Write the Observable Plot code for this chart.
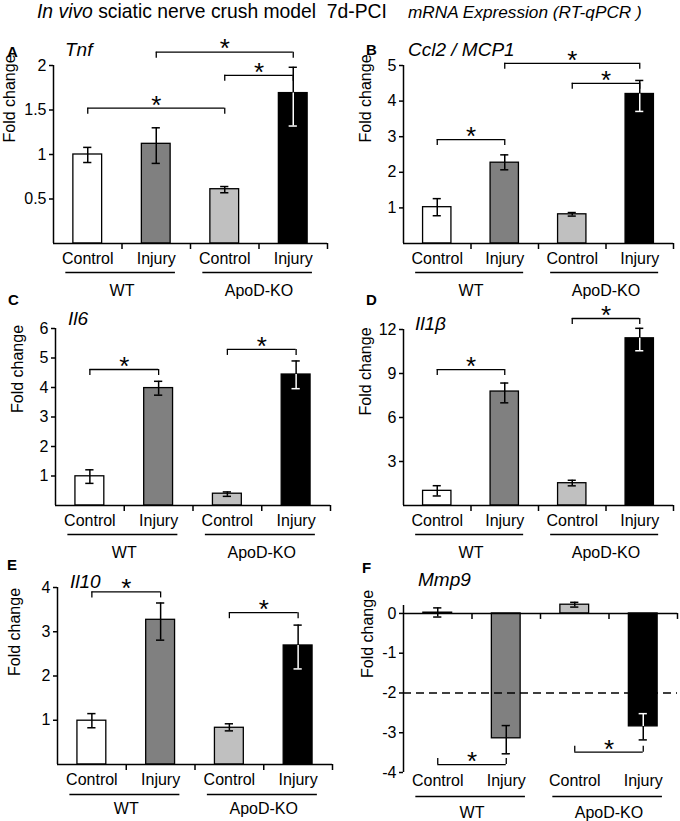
<!DOCTYPE html>
<html><head><meta charset="utf-8">
<script src="https://cdn.jsdelivr.net/npm/d3@7"></script>
<script src="https://cdn.jsdelivr.net/npm/@observablehq/plot@0.6"></script>
<style>
body{margin:0;background:#fff;}
#fig{position:relative;width:680px;height:821px;font-family:"Liberation Sans",Arial,sans-serif;color:#000;overflow:hidden;}
.abs{position:absolute;white-space:nowrap;line-height:20px;}
.letter{font-weight:bold;font-size:15px;}
.gene{font-style:italic;font-size:19px;}
.panel{position:absolute;}
.panel svg{overflow:visible;}
</style></head><body>
<div id="fig">
  <div id="title1" class="abs" style="left:37px;top:2px;font-size:17px;"><i>In vivo</i> sciatic nerve crush model&nbsp; 7d-PCI</div>
  <div id="title2" class="abs" style="left:408px;top:2px;font-size:17px;font-style:italic;">mRNA Expression (RT-qPCR )</div>
  <div class="abs letter" style="left:7px;top:42px;">A</div>
  <div class="abs gene" style="left:65px;top:40px;">Tnf</div>
  <div class="abs letter" style="left:366px;top:40px;">B</div>
  <div class="abs gene" style="left:408px;top:40px;">Ccl2 / MCP1</div>
  <div class="abs letter" style="left:8px;top:290px;">C</div>
  <div class="abs gene" style="left:68px;top:309px;">Il6</div>
  <div class="abs letter" style="left:366px;top:290px;">D</div>
  <div class="abs gene" style="left:415px;top:314px;">Il1β</div>
  <div class="abs letter" style="left:7px;top:555px;">E</div>
  <div class="abs gene" style="left:70px;top:572px;">Il10</div>
  <div class="abs letter" style="left:362px;top:558px;">F</div>
  <div class="abs gene" style="left:418px;top:570px;">Mmp9</div>
</div>
<script>
// ---- data ----
const categories = ["Control", "Injury", "Control", "Injury"];
const groups = ["WT", "ApoD-KO"];

const tnfMean = [1.00, 1.12, 0.61, 1.69];
const tnfLow  = [0.91, 0.90, 0.57, 1.32];
const tnfHigh = [1.08, 1.30, 0.64, 1.98];
const tnfSig  = [[0, 2, 1.52], [2, 3, 1.89], [1, 3, 2.15]];
const tnfTicks = [0.5, 1, 1.5, 2];

const ccl2Mean = [1.02, 2.27, 0.82, 4.20];
const ccl2Low  = [0.78, 2.07, 0.77, 3.71];
const ccl2High = [1.26, 2.49, 0.87, 4.58];
const ccl2Sig  = [[0, 1, 2.92], [2, 3, 4.50], [1, 3, 5.06]];
const ccl2Ticks = [1, 2, 3, 4, 5];

const il6Mean = [0.99, 3.98, 0.40, 4.44];
const il6Low  = [0.75, 3.74, 0.31, 3.96];
const il6High = [1.21, 4.21, 0.46, 4.90];
const il6Sig  = [[0, 1, 4.61], [2, 3, 5.29]];
const il6Ticks = [1, 2, 3, 4, 5, 6];

const il1bMean = [1.00, 7.77, 1.52, 11.40];
const il1bLow  = [0.65, 7.00, 1.34, 10.55];
const il1bHigh = [1.35, 8.35, 1.72, 12.08];
const il1bSig  = [[0, 1, 9.27], [2, 3, 12.75]];
const il1bTicks = [3, 6, 9, 12];

const il10Mean = [0.99, 3.27, 0.83, 2.69];
const il10Low  = [0.83, 2.81, 0.76, 2.16];
const il10High = [1.15, 3.65, 0.92, 3.15];
const il10Sig  = [[0, 1, 3.90], [2, 3, 3.43]];
const il10Ticks = [1, 2, 3, 4];

const mmp9Mean = [0.02, -3.14, 0.22, -2.84];
const mmp9Low  = [-0.09, -3.53, 0.16, -3.18];
const mmp9High = [0.14, -2.82, 0.28, -2.52];
const mmp9Sig  = [[0, 1, -3.80], [2, 3, -3.49]];
const mmp9Ticks = [0, -1, -2, -3, -4];
const mmp9Threshold = [-2];

// ---- styles ----
const barFills = ["#ffffff", "#808080", "#c0c0c0", "#000000"];
const FONT = "Liberation Sans, Arial, sans-serif";
const BAR_W = 0.42, CAP = 0.06;

// fit title lines to the widths they occupy in the reference
function fitWidth(id, target) {
  const el = document.getElementById(id);
  const w = el.getBoundingClientRect().width;
  const fs = parseFloat(getComputedStyle(el).fontSize);
  if (w > 0) el.style.fontSize = (fs * target / w).toFixed(2) + "px";
}
fitWidth("title1", 350);
fitWidth("title2", 234);

function panel(cfg) {
  const [y0, y1] = cfg.yDomain;
  const innerH = cfg.height - cfg.mt - cfg.mb;
  const ppu = innerH / (y1 - y0);           // pixels per data unit
  const tickLen = 6 / ppu, drop = 6 / ppu;
  const bottom = y0;
  const rows = d3.range(4).map(i => ({
    i, cat: categories[i], v: cfg.mean[i], lo: cfg.low[i], hi: cfg.high[i],
    fill: barFills[i]
  }));
  const inner = d => d.v >= 0 ? d.lo : d.hi;
  const outer = d => d.v >= 0 ? d.hi : d.lo;
  const innerColor = d => d.fill === "#000000" ? "#ffffff" : "#000000";
  const dir = cfg.up ? -1 : 1;
  const ends = cfg.sig.flatMap(s => [{x: s[0] + 0.5, y: s[2]}, {x: s[1] + 0.5, y: s[2]}]);

  const marks = [
    Plot.rect(rows, {x1: d => d.i + 0.5 - BAR_W / 2, x2: d => d.i + 0.5 + BAR_W / 2,
      y1: 0, y2: "v", fill: "fill", stroke: "#000", strokeWidth: 1.3}),
  ];
  if (cfg.threshold) marks.push(Plot.ruleY(cfg.threshold, {x1: 0, x2: 4, stroke: "#000",
      strokeWidth: 1.5, strokeDasharray: "8,5"}));
  marks.push(
    // error bars
    Plot.ruleX(rows, {x: d => d.i + 0.5, y1: "v", y2: outer, stroke: "#000", strokeWidth: 1.5}),
    Plot.ruleX(rows, {x: d => d.i + 0.5, y1: "v", y2: inner, stroke: innerColor, strokeWidth: 1.5}),
    Plot.ruleY(rows, {y: outer, x1: d => d.i + 0.5 - CAP, x2: d => d.i + 0.5 + CAP, stroke: "#000", strokeWidth: 1.5}),
    Plot.ruleY(rows, {y: inner, x1: d => d.i + 0.5 - CAP, x2: d => d.i + 0.5 + CAP, stroke: innerColor, strokeWidth: 1.5}),
    // axes lines
    Plot.ruleX([0], {y1: y0, y2: y1, stroke: "#000", strokeWidth: 1.5}),
    Plot.ruleY([0], {x1: 0, x2: 4, stroke: "#000", strokeWidth: 1.5}),
    Plot.ruleX([1, 2, 3, 4], {y1: 0, y2: -tickLen, stroke: "#000", strokeWidth: 1.5}),
    Plot.axisY({ticks: cfg.ticks, tickSize: 4, tickPadding: 3, tickFormat: d => String(d),
      fontSize: 16, label: null, strokeWidth: 1.5}),
    Plot.text(["Fold change"], {frameAnchor: "left", rotate: -90, dx: cfg.labelDx, dy: cfg.labelDy,
      fontSize: 16, text: d => d}),
    // category + group labels
    Plot.text(rows, {x: d => d.i + 0.5, y: bottom, dy: cfg.catDy, text: "cat", fontSize: 16}),
    Plot.ruleY(groups, {y: bottom, dy: cfg.lineDy, x1: (d, i) => i * 2 + 0.18, x2: (d, i) => i * 2 + 1.78,
      stroke: "#000", strokeWidth: 1.3}),
    Plot.text(groups, {x: (d, i) => i * 2 + 1, y: bottom, dy: cfg.groupDy, text: d => d, fontSize: 16}),
    // significance brackets
    Plot.ruleY(cfg.sig, {y: s => s[2], x1: s => s[0] + 0.5, x2: s => s[1] + 0.5, stroke: "#000", strokeWidth: 1.3}),
    Plot.ruleX(ends, {x: "x", y1: "y", y2: e => e.y - dir * drop, stroke: "#000", strokeWidth: 1.3}),
    Plot.text(cfg.sig, {x: s => (s[0] + s[1]) / 2 + 0.5, y: s => s[2], dy: -3, text: () => "*", fontSize: 26})
  );

  const chart = Plot.plot({
    width: cfg.width, height: cfg.height,
    marginLeft: cfg.ml, marginRight: cfg.mr, marginTop: cfg.mt, marginBottom: cfg.mb,
    x: {domain: [0, 4], axis: null},
    y: {domain: cfg.yDomain, axis: null},
    color: {type: "identity"},
    style: {fontFamily: FONT, fontSize: "16px", color: "#000", background: "transparent", overflow: "visible"},
    marks
  });
  const wrap = document.createElement("div");
  wrap.className = "panel";
  wrap.style.left = cfg.left + "px";
  wrap.style.top = cfg.top + "px";
  wrap.appendChild(chart);
  document.getElementById("fig").appendChild(wrap);
}

const labelsAD = {catDy: 15, lineDy: 29, groupDy: 47};
panel({...labelsAD, mean: tnfMean, low: tnfLow, high: tnfHigh, sig: tnfSig, ticks: tnfTicks, yDomain: [0, 2],
  left: 0, top: 30, width: 340, height: 270, ml: 53, mr: 13, mt: 35, mb: 57, labelDx: -44, labelDy: -12});
panel({...labelsAD, mean: ccl2Mean, low: ccl2Low, high: ccl2High, sig: ccl2Sig, ticks: ccl2Ticks, yDomain: [0, 5],
  left: 340, top: 30, width: 340, height: 270, ml: 63, mr: 7, mt: 35, mb: 57, labelDx: -38, labelDy: -12});
panel({...labelsAD, mean: il6Mean, low: il6Low, high: il6High, sig: il6Sig, ticks: il6Ticks, yDomain: [0, 6],
  left: 0, top: 290, width: 340, height: 280, ml: 55, mr: 10, mt: 38, mb: 65, labelDx: -38, labelDy: -4});
panel({...labelsAD, mean: il1bMean, low: il1bLow, high: il1bHigh, sig: il1bSig, ticks: il1bTicks, yDomain: [0, 12],
  left: 340, top: 290, width: 340, height: 280, ml: 63, mr: 7, mt: 39, mb: 65, labelDx: -38, labelDy: -2});
panel({catDy: 15, lineDy: 30, groupDy: 44, mean: il10Mean, low: il10Low, high: il10High, sig: il10Sig, ticks: il10Ticks, yDomain: [0, 4],
  left: 0, top: 550, width: 340, height: 271, ml: 57, mr: 8, mt: 37, mb: 57, labelDx: -43, labelDy: 0});
panel({catDy: 8, lineDy: 24, groupDy: 40, up: true, threshold: mmp9Threshold,
  mean: mmp9Mean, low: mmp9Low, high: mmp9High, sig: mmp9Sig, ticks: mmp9Ticks, yDomain: [-4, 0.2],
  left: 340, top: 550, width: 340, height: 271, ml: 63, mr: 3, mt: 55, mb: 49, labelDx: -36, labelDy: -11});
</script>
</body></html>
